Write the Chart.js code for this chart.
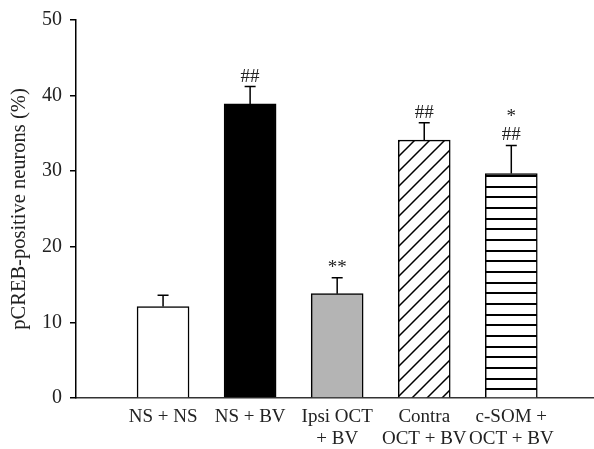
<!DOCTYPE html>
<html>
<head>
<meta charset="utf-8">
<script src="https://cdn.jsdelivr.net/npm/chart.js@4"></script>
<style>
  html, body { margin: 0; padding: 0; background: #fff; }
  canvas { display: block; }
</style>
</head>
<body>
<canvas id="pcreb" width="594" height="449"></canvas>
<script>
// groups, means and upper error limits
var groups = [['NS + NS'], ['NS + BV'], ['Ipsi OCT', '+ BV'], ['Contra', 'OCT + BV'], ['c-SOM +', 'OCT + BV']];
var means = [12.1, 38.9, 13.8, 34.1, 29.7];
var errTops = [13.6, 41.2, 15.9, 36.4, 33.4];
var marks = [[], ['##'], ['**'], ['##'], ['##', '*']];
var yTicks = [0, 10, 20, 30, 40, 50];

var serif = "'Liberation Serif', 'DejaVu Serif', serif";

// hatch fills
function hatch() {
  var c = document.createElement('canvas');
  c.width = 15; c.height = 15;
  var g = c.getContext('2d');
  g.fillStyle = '#fff'; g.fillRect(0, 0, 15, 15);
  g.strokeStyle = '#000'; g.lineWidth = 1.5;
  g.beginPath();
  g.moveTo(-1, 16); g.lineTo(16, -1);
  g.moveTo(-2, 2); g.lineTo(2, -2);
  g.moveTo(13, 17); g.lineTo(17, 13);
  g.stroke();
  return g.createPattern(c, 'repeat');
}
function stripes() {
  var c = document.createElement('canvas');
  c.width = 8; c.height = 32;
  var g = c.getContext('2d');
  g.fillStyle = '#fff'; g.fillRect(0, 0, 8, 32);
  g.fillStyle = '#000';
  g.fillRect(0, 4, 8, 2);
  g.fillRect(0, 15, 8, 2);
  g.fillRect(0, 26, 8, 2);
  return g.createPattern(c, 'repeat');
}

var errorBars = {
  id: 'errorBars',
  afterDatasetsDraw: function(chart) {
    var ctx = chart.ctx, y = chart.scales.y;
    var meta = chart.getDatasetMeta(0);
    ctx.save();
    ctx.strokeStyle = '#000';
    ctx.lineWidth = 1.5;
    meta.data.forEach(function(bar, i) {
      var top = y.getPixelForValue(errTops[i]);
      ctx.beginPath();
      ctx.moveTo(bar.x, bar.y);
      ctx.lineTo(bar.x, top);
      ctx.moveTo(bar.x - 5.5, top);
      ctx.lineTo(bar.x + 5.5, top);
      ctx.stroke();
      // significance marks stacked above the cap
      ctx.fillStyle = '#222';
      ctx.font = '19px ' + serif;
      ctx.textAlign = 'center';
      ctx.textBaseline = 'middle';
      marks[i].forEach(function(m, k) {
        ctx.fillText(m, bar.x, top - 10 - 18 * k);
      });
    });
    ctx.restore();
  }
};

new Chart('pcreb', {
  type: 'bar',
  data: {
    datasets: [{
      data: means.map(function(v, i) { return {x: i + 1, y: v}; }),
      backgroundColor: ['#ffffff', '#000000', '#b4b4b4', hatch(), stripes()],
      borderColor: '#000',
      borderWidth: 1.5,
      barThickness: 52
    }]
  },
  options: {
    responsive: false,
    animation: false,
    devicePixelRatio: 1,
    layout: { padding: { top: 20, right: 0, left: 0, bottom: 0 } },
    plugins: { legend: { display: false }, tooltip: { enabled: false } },
    scales: {
      x: {
        type: 'linear',
        min: 0,
        max: 5.95,
        offset: false,
        z: 1,
        grid: { display: false, drawTicks: false },
        border: { color: '#333', width: 1.5 },
        afterBuildTicks: function(s) {
          s.ticks = groups.map(function(g, i) { return {value: i + 1}; });
        },
        afterFit: function(s) { s.height = 51; },
        ticks: {
          autoSkip: false,
          maxRotation: 0,
          padding: 8,
          color: '#222',
          font: { family: serif, size: 19, lineHeight: 1.15 },
          callback: function(v) { return groups[v - 1] || ''; }
        }
      },
      y: {
        min: 0,
        max: 50,
        afterBuildTicks: function(s) {
          s.ticks = yTicks.map(function(v) { return {value: v}; });
        },
        afterFit: function(s) { s.width = 76; },
        grid: { drawOnChartArea: false, drawTicks: true, tickLength: 6, color: '#000', lineWidth: 1.5 },
        border: { color: '#000', width: 1.5 },
        ticks: {
          padding: 8,
          color: '#222',
          font: { family: serif, size: 20 }
        },
        title: {
          display: true,
          text: 'pCREB-positive neurons (%)',
          color: '#222',
          font: { family: serif, size: 20.5 },
          padding: { top: 7, bottom: 0 }
        }
      }
    }
  },
  plugins: [errorBars]
});
</script>
</body>
</html>
